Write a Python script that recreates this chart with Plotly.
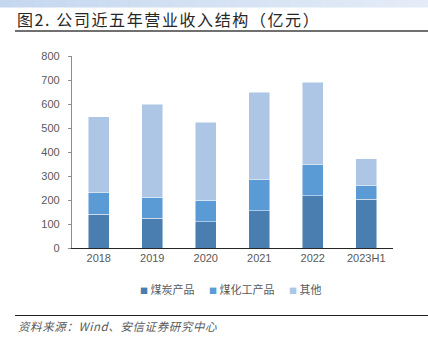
import plotly.graph_objects as go

# 公司近五年营业收入结构（亿元）
years = ["2018", "2019", "2020", "2021", "2022", "2023H1"]
coal = [141, 125, 110, 156, 218, 203]          # 煤炭产品
coal_chem = [90, 87, 88, 129, 129, 56]         # 煤化工产品
other = [315, 387, 325, 364, 343, 113]         # 其他
y_ticks = [0, 100, 200, 300, 400, 500, 600, 700, 800]

series = [
    ("煤炭产品", coal, "#4a7eb0"),
    ("煤化工产品", coal_chem, "#5b9bd5"),
    ("其他", other, "#adc6e5"),
]

fig = go.Figure()
for name, vals, color in series:
    fig.add_trace(go.Bar(
        x=years, y=vals, name=name,
        marker=dict(color=color, line=dict(color="rgba(255,255,255,0.6)", width=0.8)),
        width=0.4, showlegend=False,
    ))

W, H = 428, 339
L, R, T, B = 72, 35, 56, 91


def px_x(px):
    return (px - L) / (W - L - R)


def px_y(py):
    return (H - B - py) / (H - T - B)


shapes = []
# light blue header band with a soft left-to-right fade
n = 40
c0 = (197, 215, 239)
c1 = (228, 236, 247)
for i in range(n):
    t = i / (n - 1)
    c = tuple(round(c0[k] + (c1[k] - c0[k]) * t) for k in range(3))
    shapes.append(dict(type="rect", xref="paper", yref="paper",
                       x0=px_x(W * i / n), x1=px_x(W * (i + 1) / n + 1),
                       y0=px_y(7.5), y1=px_y(0),
                       fillcolor="rgb(%d,%d,%d)" % c, line=dict(width=0), layer="below"))

# rule under the title
shapes.append(dict(type="line", xref="paper", yref="paper",
                   x0=px_x(15), x1=px_x(428), y0=px_y(31), y1=px_y(31),
                   line=dict(color="#404040", width=1.6)))
# rule above the source note
shapes.append(dict(type="line", xref="paper", yref="paper",
                   x0=px_x(15), x1=px_x(428), y0=px_y(315.5), y1=px_y(315.5),
                   line=dict(color="#202020", width=1.2)))

annotations = [
    dict(text='<span style="letter-spacing:1.6px">图2. 公司近五年营业收入结构（亿元）</span>',
         xref="paper", yref="paper",
         x=px_x(15), y=px_y(19.5), xanchor="left", yanchor="middle", showarrow=False,
         font=dict(size=16, color="#262626", family="Noto Sans CJK SC")),
    dict(text='<span style="letter-spacing:0.6px"><i>资料来源：Wind、安信证券研究中心</i></span>',
         xref="paper", yref="paper",
         x=px_x(16), y=px_y(326), xanchor="left", yanchor="middle", showarrow=False,
         font=dict(size=11.5, color="#595959", family="Noto Sans CJK SC")),
]

# compact legend: small coloured square followed by the series name
legend_x = [138, 207, 287]
for (name, _, color), lx in zip(series, legend_x):
    annotations.append(dict(
        text='<span style="color:%s;font-size:8px">■</span> %s' % (color, name),
        xref="paper", yref="paper", x=px_x(lx), y=px_y(289),
        xanchor="left", yanchor="middle", showarrow=False,
        font=dict(size=11, color="#595959", family="Noto Sans CJK SC")))

fig.update_layout(
    width=W, height=H,
    margin=dict(l=L, r=R, t=T, b=B),
    barmode="stack",
    plot_bgcolor="white", paper_bgcolor="white",
    font=dict(family="Liberation Sans, Arial, sans-serif", size=11, color="#595959"),
    showlegend=False,
    xaxis=dict(showline=True, linecolor="#262626", linewidth=1.3, ticks="",
               tickfont=dict(size=11, color="#595959"), showgrid=False),
    yaxis=dict(range=[0, 800], tickvals=y_ticks, showline=True, linecolor="#8c8c8c",
               linewidth=1.3, ticks="outside", ticklen=3, tickcolor="#8c8c8c",
               ticklabelstandoff=6,
               showgrid=False, zeroline=False, tickfont=dict(size=11, color="#595959")),
    shapes=shapes,
    annotations=annotations,
)

fig.write_html("out.html")
